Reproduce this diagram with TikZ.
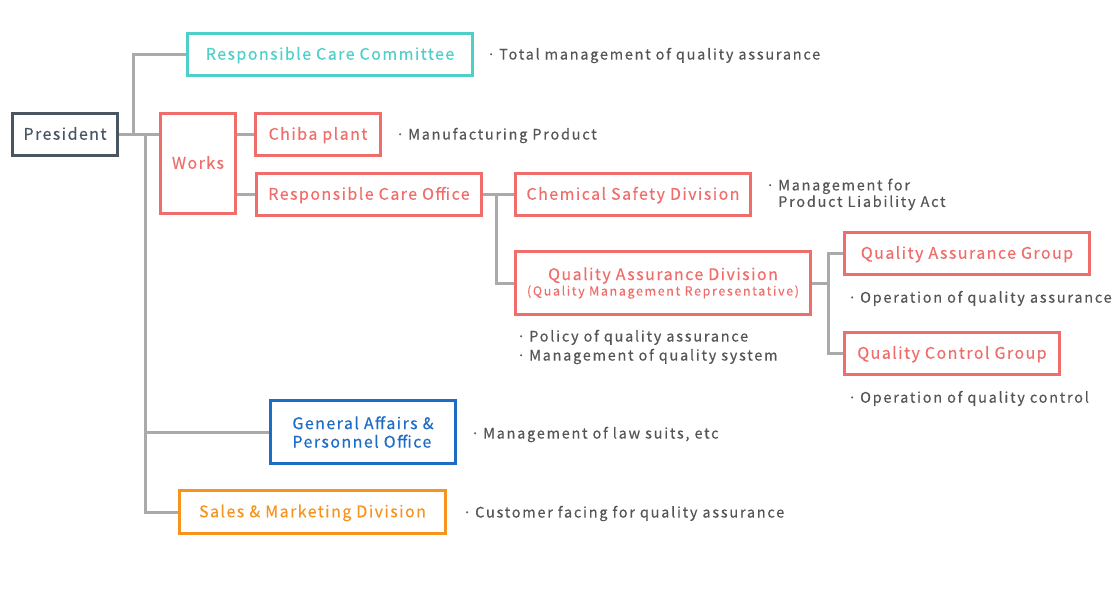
\documentclass[tikz,border=0pt]{standalone}
\usepackage{fontspec}
\setmainfont{Noto Sans CJK JP}[LetterSpace=9,FakeBold=0.3]
\newfontfamily\descfont{Noto Sans CJK JP}[LetterSpace=12,FakeBold=0.3]
\newfontfamily\subfont{Noto Sans CJK JP}[LetterSpace=13,FakeBold=0.3]
\definecolor{cPres}{HTML}{4A5562}
\definecolor{cTeal}{HTML}{4ECFC9}
\definecolor{cRed}{HTML}{EF6E6B}
\definecolor{cBlue}{HTML}{1D6CC6}
\definecolor{cOrange}{HTML}{F7941E}
\definecolor{cLine}{HTML}{AAAAAA}
\definecolor{cText}{HTML}{555555}
\newcommand\bl{\makebox[16pt][c]{·}}
\tikzset{
  box/.style={draw, line width=3pt, inner sep=0pt, align=center, font=\fontsize{16}{18.5}\selectfont},
  single/.style={text height=11.5pt, text depth=1pt},
  conn/.style={draw=cLine, line width=3pt},
  desc/.style={anchor=west, inner sep=0pt, text=cText, align=left, font=\descfont\fontsize{14.5}{19}\selectfont},
}
\begin{document}
\begin{tikzpicture}[x=1pt,y=-1pt]
\useasboundingbox (0,0) rectangle (1120,595);
% nodes
\node[box, single, draw=cPres, text=cPres, minimum width=105pt, minimum height=42pt] (pres) at (65,134.5) {President};
\node[box, single, draw=cTeal, text=cTeal, minimum width=285pt, minimum height=42pt] (rcc) at (330,54.5) {Responsible Care Committee};
\node[box, single, draw=cRed, text=cRed, minimum width=75pt, minimum height=100pt] (works) at (198,163.5) {Works};
\node[box, single, draw=cRed, text=cRed, minimum width=125pt, minimum height=42pt] (chiba) at (318,134.5) {Chiba plant};
\node[box, single, draw=cRed, text=cRed, minimum width=225pt, minimum height=42pt] (rco) at (369,194.5) {Responsible Care Office};
\node[box, single, draw=cRed, text=cRed, minimum width=235pt, minimum height=42pt] (csd) at (633,194.5) {Chemical Safety Division};
\node[box, draw=cRed, text=cRed, minimum width=295pt, minimum height=63pt] (qad) at (663,283) {Quality Assurance Division\\[-3pt]{\subfont\fontsize{12.5}{14}\selectfont (Quality Management Representative)}};
\node[box, single, draw=cRed, text=cRed, minimum width=245pt, minimum height=42pt] (qag) at (967,253.5) {Quality Assurance Group};
\node[box, single, draw=cRed, text=cRed, minimum width=215pt, minimum height=42pt] (qcg) at (952,353.5) {Quality Control Group};
\node[box, draw=cBlue, text=cBlue, minimum width=185pt, minimum height=63pt, align=left] (ga) at (363,432) {General Affairs \&\\Personnel Office};
\node[box, single, draw=cOrange, text=cOrange, minimum width=266pt, minimum height=43pt] (sales) at (312.5,512) {Sales \& Marketing Division};
% descriptions
\node[desc] (d1) at (483,55.5) {\bl Total management of quality assurance};
\node[desc] (d2) at (392,135.5) {\bl Manufacturing Product};
\node[desc, font=\descfont\fontsize{14.5}{16.5}\selectfont] (d3) at (762,194.5) {\bl Management for\\\hspace*{16pt}Product Liability Act};
\node[desc] (d4) at (513,347) {\bl Policy of quality assurance\\\bl Management of quality system};
\node[desc] (d5) at (844,298.5) {\bl Operation of quality assurance};
\node[desc] (d6) at (844,398.5) {\bl Operation of quality control};
\node[desc] (d7) at (467,434.5) {\bl Management of law suits, etc};
\node[desc] (d8) at (459,513.5) {\bl Customer facing for quality assurance};
% junctions
\coordinate (j1) at (133,134.5);
\coordinate (j2) at (145,134.5);
\coordinate (j3) at (496,194.5);
\coordinate (j4) at (828,283);
% connectors
\draw[conn] (pres.east) -- (pres.east -| works.west);
\draw[conn] (j1) |- (rcc.west);
\draw[conn] (j2) |- (ga.west);
\draw[conn] (j2) |- (sales.west);
\draw[conn] (works.east |- chiba.west) -- (chiba.west);
\draw[conn] (works.east |- rco.west) -- (rco.west);
\draw[conn] (rco.east) -- (csd.west);
\draw[conn] (j3) |- (qad.west);
\draw[conn] (qad.east) -- (j4);
\draw[conn] (j4) |- (qag.west);
\draw[conn] (j4) |- (qcg.west);
\end{tikzpicture}
\end{document}
